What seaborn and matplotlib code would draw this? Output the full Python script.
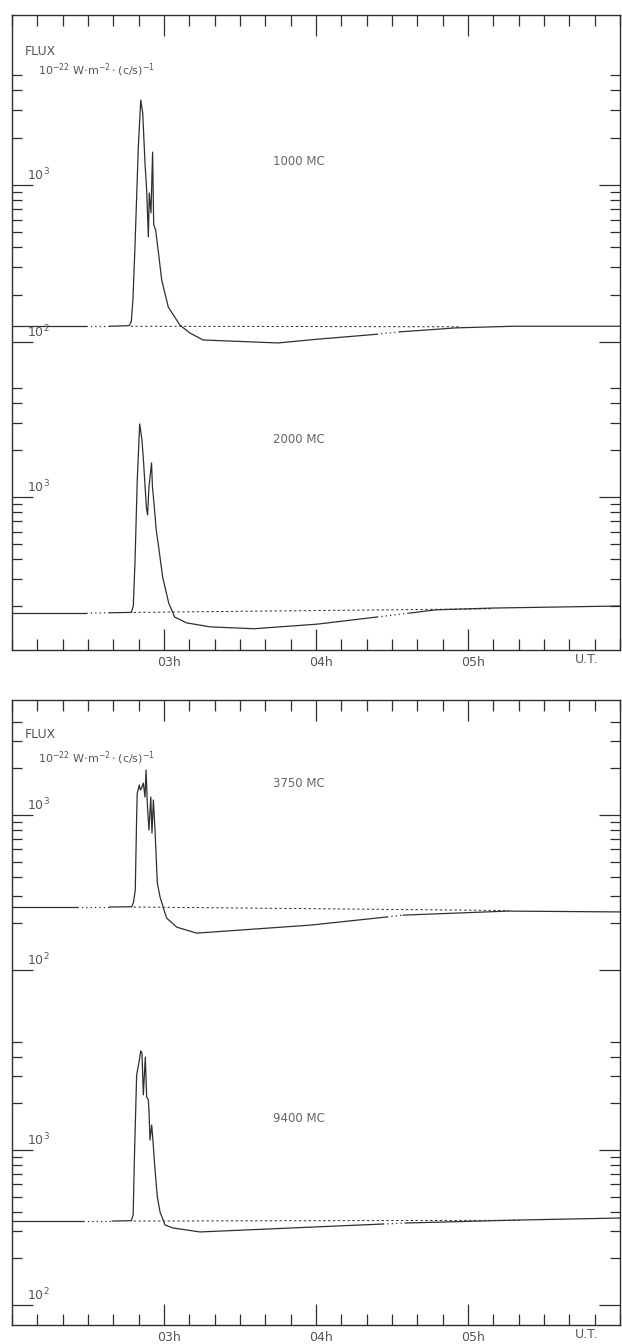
import numpy as np
import matplotlib
matplotlib.use("Agg")
import matplotlib.pyplot as plt
import matplotlib.ticker as mticker
from matplotlib.transforms import ScaledTranslation
import seaborn as sns

# ---- data (time in decimal hours UT, flux in 1e-22 W m-2 (c/s)-1)
t_1000 = [2.00, 2.49, 2.64, 2.770, 2.785, 2.796, 2.809, 2.831, 2.847, 2.860, 2.875, 2.886,
          2.897, 2.903, 2.914, 2.925, 2.932, 2.945, 2.963, 2.985, 3.028, 3.105, 3.171, 3.257,
          3.75, 4.00, 4.40, 4.55, 4.92, 5.30, 6.00]
flux_1000 = [126, 126, 126, 127, 135, 190, 403, 1746, 3475, 2876, 1380, 929,
             467, 889, 664, 1620, 560, 517, 374, 248, 167, 128, 114, 103,
             98.6, 104, 112, 116, 123, 126, 126]
gaps_1000 = [(2.49, 2.64), (4.40, 4.55)]
base_t_1000 = [2.78, 4.95]
base_f_1000 = [126, 125]

t_2000 = [2.00, 2.49, 2.64, 2.785, 2.798, 2.809, 2.824, 2.840, 2.855, 2.866, 2.874, 2.884,
          2.892, 2.901, 2.908, 2.918, 2.924, 2.934, 2.949, 2.965, 2.991, 3.031, 3.070, 3.148,
          3.303, 3.592, 4.007, 4.401, 4.612, 4.789, 5.158, 6.00]
flux_2000 = [180, 180, 181, 182, 200, 378, 1285, 2940, 2317, 1652, 1230, 863,
             767, 1159, 1343, 1652, 1159, 915, 614, 477, 307, 209, 170, 156,
             147, 143, 153, 170, 180, 189, 194, 200]
gaps_2000 = [(2.49, 2.64), (4.401, 4.612)]
base_t_2000 = [2.80, 5.15]
base_f_2000 = [182, 192]

t_3750 = [2.00, 2.43, 2.64, 2.788, 2.800, 2.811, 2.820, 2.824, 2.838, 2.844, 2.853, 2.864,
          2.875, 2.882, 2.890, 2.901, 2.913, 2.921, 2.930, 2.941, 2.956, 2.974, 3.000, 3.018,
          3.084, 3.215, 3.967, 4.467, 4.572, 5.263, 6.00]
flux_3750 = [255, 255, 255, 256, 275, 328, 971, 1387, 1562, 1450, 1493, 1608,
             1306, 1951, 1195, 800, 1306, 765, 1250, 800, 364, 296, 244, 216,
             189, 173, 195, 220, 226, 240, 237]
gaps_3750 = [(2.43, 2.64), (4.467, 4.572)]
base_t_3750 = [2.80, 5.27]
base_f_3750 = [255, 242]

t_9400 = [2.00, 2.47, 2.66, 2.785, 2.797, 2.805, 2.820, 2.838, 2.847, 2.855, 2.864, 2.877,
          2.886, 2.897, 2.901, 2.908, 2.919, 2.926, 2.941, 2.956, 2.974, 3.007, 3.059, 3.237,
          3.967, 4.441, 4.586, 5.316, 6.00]
flux_9400 = [348, 348, 348, 350, 380, 862, 3047, 3810, 4355, 4230, 2266, 3980,
             2198, 2102, 1811, 1160, 1450, 1195, 743, 498, 398, 328, 314, 296,
             318, 333, 338, 353, 364]
gaps_9400 = [(2.47, 2.66), (4.441, 4.586)]
base_t_9400 = [2.80, 5.34]
base_f_9400 = [348, 352]

hour_ticks = [3, 4, 5]
hour_labels = ["03h", "04h", "05h"]

ink = "#2f2f2f"
txt = "#555555"

sns.set_style("white")
plt.rcParams["font.family"] = ["DejaVu Sans"]

fig = plt.figure(figsize=(6.22, 13.44), dpi=100)
fig.patch.set_facecolor("white")


def draw_trace(ax, t, f, gaps):
    t = np.asarray(t)
    f = np.asarray(f)
    edges = [t[0]] + [g for gap in gaps for g in gap] + [t[-1]]
    for i in range(len(edges) - 1):
        m = (t >= edges[i]) & (t <= edges[i + 1])
        style = "-" if i % 2 == 0 else (0, (1, 2.5))
        sns.lineplot(x=t[m], y=f[m], ax=ax, color=ink, linewidth=0.9,
                     linestyle=style, estimator=None, sort=False)


def make_frame(rect):
    ax = fig.add_axes(rect)
    ax.set_xlim(2, 6)
    ax.set_yticks([])
    ax.set_xticks(hour_ticks)
    ax.set_xticklabels(hour_labels)
    ax.xaxis.set_minor_locator(mticker.MultipleLocator(1 / 6))
    ax.tick_params(axis="x", which="both", direction="in", top=True, bottom=True,
                   color=ink, width=0.9, labelsize=9, labelcolor=txt, pad=4)
    ax.tick_params(axis="x", which="major", length=15)
    ax.tick_params(axis="x", which="minor", length=8)
    for s in ax.spines.values():
        s.set_color(ink)
        s.set_linewidth(1.0)
    for lab in ax.get_xticklabels():
        lab.set_transform(lab.get_transform() + ScaledTranslation(0.05, 0, fig.dpi_scale_trans))
    ax.annotate("U.T.", xy=(5.78, 0), xycoords=ax.get_xaxis_transform(),
                xytext=(0, -2), textcoords="offset points", ha="center", va="top",
                fontsize=9, color=txt)
    return ax


def make_channel(rect, t, f, gaps, bt, bf, ylim, majors, minors, labels, name, name_y):
    ax = fig.add_axes(rect)
    ax.patch.set_alpha(0)
    draw_trace(ax, t, f, gaps)
    sns.lineplot(x=bt, y=bf, ax=ax, color=ink, linewidth=0.7,
                 linestyle=(0, (2.5, 2.5)), estimator=None)
    ax.set_yscale("log")
    ax.set_xlim(2, 6)
    ax.set_ylim(*ylim)
    ax.xaxis.set_visible(False)
    ax.set_ylabel("")
    for s in ax.spines.values():
        s.set_visible(False)
    ax.yaxis.set_major_locator(mticker.FixedLocator(majors))
    ax.yaxis.set_minor_locator(mticker.FixedLocator(minors))
    ax.yaxis.set_major_formatter(mticker.NullFormatter())
    ax.yaxis.set_minor_formatter(mticker.NullFormatter())
    ax.tick_params(axis="y", which="both", direction="in", left=True, right=True,
                   color=ink, width=0.9)
    ax.tick_params(axis="y", which="major", length=15)
    ax.tick_params(axis="y", which="minor", length=7)
    for v, s in labels:
        ax.annotate(s, xy=(0.024, v), xycoords=ax.get_yaxis_transform(),
                    xytext=(0, 1.5), textcoords="offset points", ha="left", va="bottom",
                    fontsize=9, color=txt)
    ax.text(0.429, name_y, name, transform=ax.transAxes, ha="left", va="center",
            fontsize=8.5, color="#666666")
    return ax


minor_low = [200, 300, 400, 500, 600, 700, 800, 900]

rect_top = [12 / 622, 1 - 650 / 1344, 608 / 622, 635 / 1344]
rect_bot = [12 / 622, 1 - 1325 / 1344, 608 / 622, 625 / 1344]

for rect, unit_y in [(rect_top, (0.942, 0.913)), (rect_bot, (0.944, 0.907))]:
    frame = make_frame(rect)
    frame.text(0.021, unit_y[0], "FLUX", transform=frame.transAxes, ha="left",
               va="center", fontsize=9, color=txt)
    frame.text(0.043, unit_y[1], r"10$^{-22}$ W$\cdot$m$^{-2}\cdot$(c/s)$^{-1}$",
               transform=frame.transAxes, ha="left", va="center", fontsize=8, color=txt)

make_channel(rect_top, t_1000, flux_1000, gaps_1000, base_t_1000, base_f_1000,
             (10 ** 0.038, 10 ** 4.083), [100, 1000], minor_low + [2000, 3000, 4000, 5000],
             [(100, r"10$^2$"), (1000, r"10$^3$")], "1000 MC", 0.770)
make_channel(rect_top, t_2000, flux_2000, gaps_2000, base_t_2000, base_f_2000,
             (10 ** 2.019, 10 ** 6.090), [1000], minor_low + [2000, 3000, 4000, 5000],
             [(1000, r"10$^3$")], "2000 MC", 0.331)
make_channel(rect_bot, t_3750, flux_3750, gaps_3750, base_t_3750, base_f_3750,
             (10 ** -0.290, 10 ** 3.742), [100, 1000], minor_low + [2000, 3000, 4000],
             [(100, r"10$^2$"), (1000, r"10$^3$")], "3750 MC", 0.866)
make_channel(rect_bot, t_9400, flux_9400, gaps_9400, base_t_9400, base_f_9400,
             (10 ** 1.871, 10 ** 5.903), [100, 1000], minor_low + [2000, 3000, 4000, 5000],
             [(100, r"10$^2$"), (1000, r"10$^3$")], "9400 MC", 0.331)

fig.savefig("out.png", dpi=100, facecolor="white")
